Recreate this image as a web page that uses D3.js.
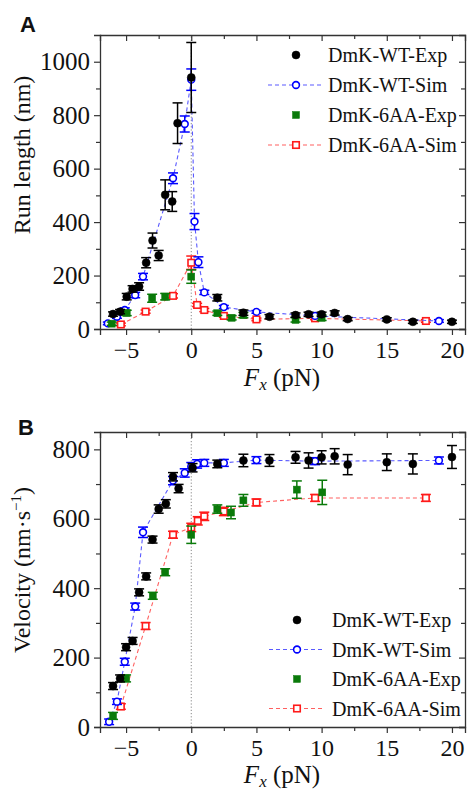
<!DOCTYPE html>
<html><head><meta charset="utf-8">
<script src="https://cdn.jsdelivr.net/npm/d3@7/dist/d3.min.js"></script>
<style>
html,body{margin:0;padding:0;background:#fff;}
svg{display:block;font-family:'Liberation Serif','Times New Roman',Times,serif;}
</style></head>
<body>
<svg id="c" width="468" height="796"></svg>
<script>
// ---------- Panel A: run length (nm) ----------
const fA_wtExp  = [-6.0,-5.46,-4.95,-4.5,-4.0,-3.46,-2.97,-2.5,-2.0,-1.46,-1.05,0,2,4,6,8,9,10,11,12,15,17,20];
const yA_wtExp  = [56,65,121,150,159,248,331,275,502,477,770,941,117,61,46,52,55,55,60,37,36,27,27];
const eA_wtExp  = [8,8,12,12,14,19,28,19,56,37,76,131,12,10,8,8,8,8,8,6,6,6,6];

const fA_wtSim  = [-6.4,-5.7,-5.1,-4.3,-3.7,-1.4,-0.5,0,0.25,0.55,1,2.5,5,9.5,19];
const yA_wtSim  = [21,46,71,127,196,564,767,933,402,250,137,82,64,49,30];
const eA_wtSim  = [5,6,8,10,12,20,30,40,30,20,8,6,5,5,5];

const fA_aaExp  = [-6.1,-4.95,-3.0,-2.0,0,2,3.1,4,8,10];
const yA_aaExp  = [20,60,115,121,196,59,42,52,34,42];
const eA_aaExp  = [6,10,15,12,25,8,8,10,8,10];

const fA_aaSim  = [-5.4,-3.5,-1.4,0,0.45,1,2.5,5,9.5,18];
const yA_aaSim  = [17,65,124,248,90,71,49,36,40,30];
const eA_aaSim  = [5,6,8,25,6,6,5,5,5,5];

// ---------- Panel B: velocity (nm/s) ----------
const fB_wtExp  = [-6.0,-5.46,-5.0,-4.5,-4.0,-3.46,-2.97,-2.5,-1.95,-1.4,-0.97,0.1,2,4,6,8,9,10,11,12,15,17,20];
const yB_wtExp  = [118,140,230,248,388,434,540,628,643,721,687,747,758,768,768,777,768,777,780,756,763,758,778];
const eB_wtExp  = [10,10,10,10,10,10,10,12,12,12,12,12,11,18,17,17,22,19,22,29,24,29,33];

const fB_wtSim  = [-6.3,-5.7,-5.1,-4.3,-3.7,-1.4,-0.5,0,0.45,1,2.5,5,9.5,19];
const yB_wtSim  = [15,73,188,347,561,710,732,750,758,761,761,769,766,768];
const eB_wtSim  = [8,8,10,10,15,12,12,12,12,10,10,10,10,10];

const fB_aaExp  = [-6.0,-5.0,-2.95,-2.0,0,2,3.05,4,8.1,10.05];
const yB_aaExp  = [32,140,378,446,554,628,618,653,684,676];
const eB_aaExp  = [10,10,10,10,25,12,18,17,25,35];

const fB_aaSim  = [-5.4,-3.5,-1.4,0,0.5,1,2.5,5,9.5,18];
const yB_aaSim  = [59,291,554,575,594,607,621,647,660,660];
const eB_aaSim  = [8,10,10,12,12,12,12,10,10,10];

// ---------- ticks / labels ----------
const xMajor = [-5,0,5,10,15,20];
const xMinor = [-2.5,2.5,7.5,12.5,17.5];
const yA_major = [0,200,400,600,800,1000];
const yA_minor = [100,300,500,700,900];
const yB_major = [0,200,400,600,800];
const yB_minor = [100,300,500,700];
const legendNames = ["DmK-WT-Exp","DmK-WT-Sim","DmK-6AA-Exp","DmK-6AA-Sim"];

const SERIF = "'Liberation Serif','Times New Roman',Times,serif";
const C = {black:"#000000", blue:"#0000ff", blueLine:"#5a5aff", green:"#0a7a0a", red:"#ff1a1a", redLine:"#ff6060"};

const svg = d3.select("#c");

function drawMarkers(g, pts, color, shape, filled){
  pts.forEach(p=>{
    if(shape==="circle"){
      g.append("circle").attr("cx",p[0]).attr("cy",p[1]).attr("r",filled?4:3.4)
        .attr("fill",filled?color:"#fff").attr("stroke",color).attr("stroke-width",filled?0.5:1.6);
    } else {
      const s = filled?7:6.5;
      g.append("rect").attr("x",p[0]-s/2).attr("y",p[1]-s/2).attr("width",s).attr("height",s)
        .attr("fill",filled?color:"#fff").attr("stroke",color).attr("stroke-width",filled?0.5:1.6);
    }
  });
}

function panel(opt){
  const x = d3.scaleLinear().domain([-7,21]).range([100,465]);
  const y = d3.scaleLinear().domain(opt.ydom).range([opt.bottom, opt.top]);
  const g = svg.append("g");

  g.append("line").attr("x1",x(0)).attr("x2",x(0)).attr("y1",y.range()[0]).attr("y2",y.range()[1])
    .attr("stroke","#888").attr("stroke-width",1).attr("stroke-dasharray","1.2,2");

  function axisStyle(sel, fs){
    sel.attr("font-family",SERIF);
    sel.select(".domain").attr("stroke","#333").attr("stroke-width",1.3);
    sel.selectAll(".tick line").attr("stroke","#333").attr("stroke-width",1.2);
    sel.selectAll("text").attr("font-family",SERIF).attr("font-size",fs||25).attr("fill","#111");
  }
  const bx = g.append("g").attr("transform",`translate(0,${opt.bottom})`)
    .call(d3.axisBottom(x).tickValues(xMajor).tickSize(6).tickPadding(6).tickFormat(d3.format("d")));
  axisStyle(bx, 24);
  const bxm = g.append("g").attr("transform",`translate(0,${opt.bottom})`)
    .call(d3.axisBottom(x).tickValues(xMinor).tickSize(4).tickFormat(""));
  axisStyle(bxm); bxm.select(".domain").remove();
  const tx = g.append("g").attr("transform",`translate(0,${opt.top})`)
    .call(d3.axisTop(x).tickValues(xMajor).tickSize(-6).tickFormat(""));
  axisStyle(tx);
  const txm = g.append("g").attr("transform",`translate(0,${opt.top})`)
    .call(d3.axisTop(x).tickValues(xMinor).tickSize(-4).tickFormat(""));
  axisStyle(txm); txm.select(".domain").remove();
  const ly = g.append("g").attr("transform",`translate(100,0)`)
    .call(d3.axisLeft(y).tickValues(opt.ymaj).tickSize(6).tickPadding(4).tickFormat(d3.format("d")));
  axisStyle(ly, 25);
  const lym = g.append("g").attr("transform",`translate(100,0)`)
    .call(d3.axisLeft(y).tickValues(opt.ymin).tickSize(4).tickFormat(""));
  axisStyle(lym); lym.select(".domain").remove();
  const ry = g.append("g").attr("transform",`translate(465,0)`)
    .call(d3.axisRight(y).tickValues(opt.ymaj).tickSize(-6).tickFormat(""));
  axisStyle(ry);
  const rym = g.append("g").attr("transform",`translate(465,0)`)
    .call(d3.axisRight(y).tickValues(opt.ymin).tickSize(-4).tickFormat(""));
  axisStyle(rym); rym.select(".domain").remove();

  const line = d3.line().x(d=>x(d[0])).y(d=>y(d[1]));
  const zip = (f,v,e)=>f.map((d,i)=>[d,v[i],e[i]]);

  function series(data, color, lineColor, shape, filled){
    if(lineColor){
      g.append("path").datum(data).attr("d",line).attr("fill","none")
        .attr("stroke",lineColor).attr("stroke-width",1.1).attr("stroke-dasharray","4,3");
    }
    const eg = g.append("g");
    data.forEach(d=>{
      const x0 = x(d[0]), y1 = y(d[1]-d[2]), y2 = y(d[1]+d[2]);
      eg.append("line").attr("x1",x0).attr("x2",x0).attr("y1",y1).attr("y2",y2).attr("stroke",color).attr("stroke-width",1.5);
      eg.append("line").attr("x1",x0-5).attr("x2",x0+5).attr("y1",y1).attr("y2",y1).attr("stroke",color).attr("stroke-width",1.5);
      eg.append("line").attr("x1",x0-5).attr("x2",x0+5).attr("y1",y2).attr("y2",y2).attr("stroke",color).attr("stroke-width",1.5);
    });
    drawMarkers(g, data.map(d=>[x(d[0]),y(d[1])]), color, shape, filled);
  }

  series(zip(opt.aaSim[0],opt.aaSim[1],opt.aaSim[2]), C.red, C.redLine, "square", false);
  series(zip(opt.wtSim[0],opt.wtSim[1],opt.wtSim[2]), C.blue, C.blueLine, "circle", false);
  series(zip(opt.aaExp[0],opt.aaExp[1],opt.aaExp[2]), C.green, null, "square", true);
  series(zip(opt.wtExp[0],opt.wtExp[1],opt.wtExp[2]), C.black, null, "circle", true);

  const lg = g.append("g");
  const items = [
    {name:legendNames[0], color:C.black, line:null, shape:"circle", filled:true},
    {name:legendNames[1], color:C.blue, line:C.blueLine, shape:"circle", filled:false},
    {name:legendNames[2], color:C.green, line:null, shape:"square", filled:true},
    {name:legendNames[3], color:C.red, line:C.redLine, shape:"square", filled:false}
  ];
  items.forEach((it,i)=>{
    const yy = opt.legY + i*opt.legDy;
    if(it.line){
      lg.append("line").attr("x1",opt.legX-28).attr("x2",opt.legX+27).attr("y1",yy).attr("y2",yy)
        .attr("stroke",it.line).attr("stroke-width",1.1).attr("stroke-dasharray","4,3");
    }
    drawMarkers(lg, [[opt.legX,yy]], it.color, it.shape, it.filled);
    lg.append("text").attr("x",opt.legTX).attr("y",yy).attr("dy","0.35em")
      .attr("font-family",SERIF).attr("font-size",20).attr("fill","#111").text(it.name);
  });

  const yt = g.append("text").attr("transform",`translate(${opt.ytX},${opt.ytY}) rotate(-90)`)
    .attr("text-anchor","middle").attr("font-family",SERIF).attr("font-size",24).attr("fill","#111");
  opt.ytitle(yt);

  const xt = g.append("text").attr("x",282).attr("y",opt.bottom+opt.xtOff).attr("text-anchor","middle")
    .attr("font-family",SERIF).attr("font-size",25).attr("fill","#111");
  xt.append("tspan").attr("font-style","italic").text("F");
  xt.append("tspan").attr("font-style","italic").attr("font-size",17).attr("dy",4).text("x");
  xt.append("tspan").attr("dy",-4).text(" (pN)");

  svg.append("text").attr("x",opt.letX).attr("y",opt.letY).attr("font-family","'Liberation Sans',Arial,sans-serif")
    .attr("font-weight","bold").attr("font-size",22).attr("fill","#111").text(opt.letter);
}

panel({
  letter:"A", letX:20, letY:32,
  ydom:[0,1100], top:35, bottom:329, ymaj:yA_major, ymin:yA_minor,
  wtExp:[fA_wtExp,yA_wtExp,eA_wtExp], wtSim:[fA_wtSim,yA_wtSim,eA_wtSim],
  aaExp:[fA_aaExp,yA_aaExp,eA_aaExp], aaSim:[fA_aaSim,yA_aaSim,eA_aaSim],
  legX:296, legTX:328, legY:55, legDy:30,
  ytX:30, ytY:155, xtOff:57,
  ytitle: t=>t.text("Run length (nm)")
});

panel({
  letter:"B", letX:18, letY:435,
  ydom:[0,850], top:432, bottom:727, ymaj:yB_major, ymin:yB_minor,
  wtExp:[fB_wtExp,yB_wtExp,eB_wtExp], wtSim:[fB_wtSim,yB_wtSim,eB_wtSim],
  aaExp:[fB_aaExp,yB_aaExp,eB_aaExp], aaSim:[fB_aaSim,yB_aaSim,eB_aaSim],
  legX:297, legTX:332, legY:620, legDy:29.5,
  ytX:30, ytY:570, xtOff:56,
  ytitle: t=>{
    t.append("tspan").text("Velocity (nm·s");
    t.append("tspan").attr("font-size",15).attr("dy",-9).text("−1");
    t.append("tspan").attr("dy",9).text(")");
  }
});
</script>
</body></html>
